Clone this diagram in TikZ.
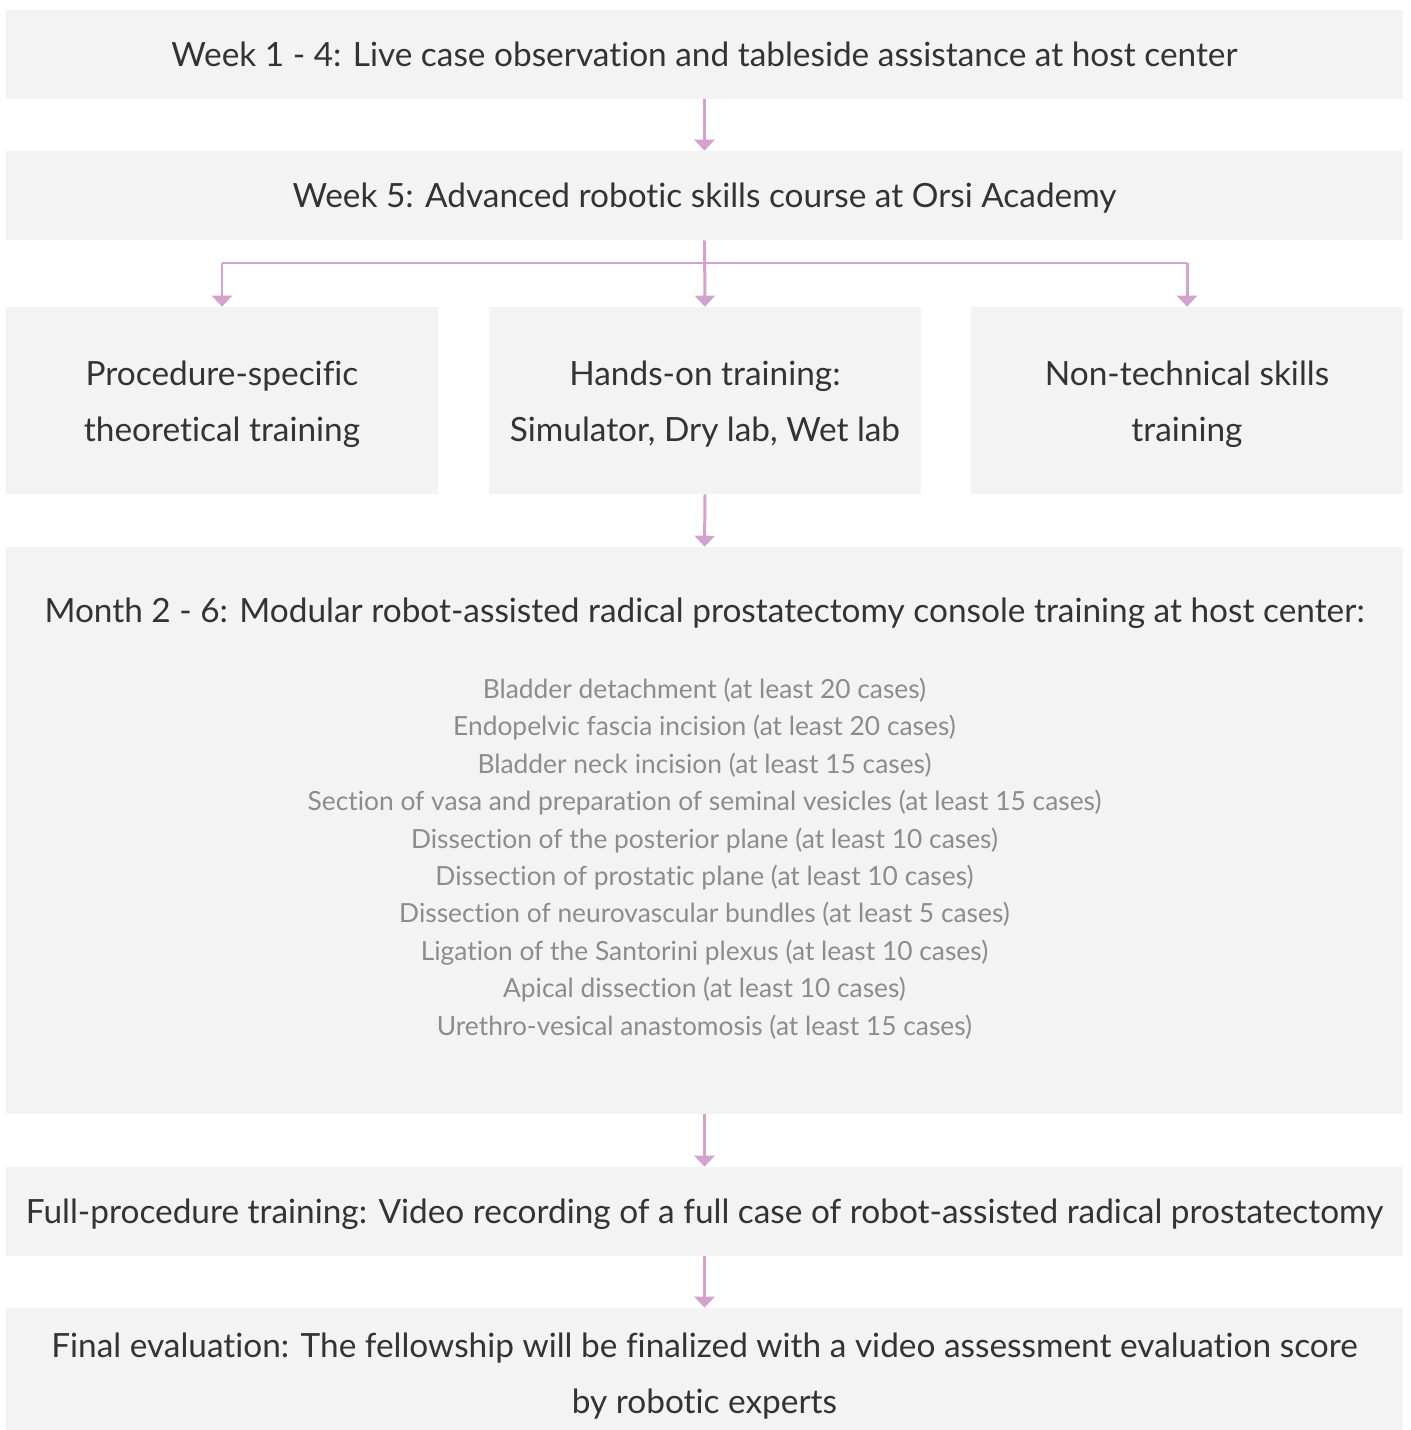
\documentclass[tikz,border=0pt]{standalone}
\usepackage{fontspec}
\setmainfont{Lato}[Ligatures=NoCommon]
\usepackage{tikz}
\usetikzlibrary{arrows.meta}

\definecolor{boxgray}{HTML}{F3F3F3}
\definecolor{arrowpink}{HTML}{D3A3CD}
\definecolor{textdark}{HTML}{333333}
\definecolor{textlight}{HTML}{8C8C8C}

% lower a line of text without changing its box
\newcommand{\lowline}[2]{\raisebox{-#1}[\height][\depth]{#2}}

\tikzset{
    stage/.style={fill=boxgray, text=textdark, inner sep=0pt, align=center,
        font=\fontsize{19}{31.9}\selectfont},
    widebox/.style={stage, minimum width=27.94cm, minimum height=1.78cm,
        text height=0.5cm, text depth=0.02cm},
    thirdbox/.style={stage, minimum width=8.64cm, minimum height=3.74cm},
    flow/.style={arrowpink, line width=1.7pt, -{Triangle[width=0.4cm,length=0.22cm]}},
}

\begin{document}
\begin{tikzpicture}[x=0.02cm,y=-0.02cm]
    \useasboundingbox (0,0) rectangle (1410,1430);
    \node[widebox] (weeks) at (704.5,54.5) {Week 1 - 4: Live case observation and tableside assistance at host center};
    \node[widebox] (course) at (704.5,195.5) {Week 5: Advanced robotic skills course at Orsi Academy};
    \node[thirdbox] (theory) at (222,400.5) {\lowline{0.08cm}{Procedure-specific}\\\lowline{0.08cm}{theoretical training}};
    \node[thirdbox] (hands) at (705,400.5) {\lowline{0.08cm}{Hands-on training:}\\\lowline{0.08cm}{Simulator, Dry lab, Wet lab}};
    \node[thirdbox] (nontech) at (1187,400.5) {\lowline{0.08cm}{Non-technical skills}\\\lowline{0.08cm}{training}};
    \node[stage, minimum width=27.94cm, minimum height=11.34cm] (month) at (704.5,830.5) {};
    \node[anchor=base, text=textdark, font=\fontsize{19}{31.9}\selectfont] (monthtitle) at (704.5,622) {Month 2 - 6: Modular robot-assisted radical prostatectomy console training at host center:};
    \node[text=textlight, align=center, font=\fontsize{15}{21.3}\selectfont] (modules) at (704.5,858.5) {Bladder detachment (at least 20 cases)\\
        Endopelvic fascia incision (at least 20 cases)\\
        Bladder neck incision (at least 15 cases)\\
        Section of vasa and preparation of seminal vesicles (at least 15 cases)\\
        Dissection of the posterior plane (at least 10 cases)\\
        Dissection of prostatic plane (at least 10 cases)\\
        Dissection of neurovascular bundles (at least 5 cases)\\
        Ligation of the Santorini plexus (at least 10 cases)\\
        Apical dissection (at least 10 cases)\\
        Urethro-vesical anastomosis (at least 15 cases)};
    \node[widebox] (full) at (704.5,1211.5) {Full-procedure training: Video recording of a full case of robot-assisted radical prostatectomy};
    \node[stage, minimum width=27.94cm, minimum height=2.44cm] (final) at (704.5,1369) {\lowline{0.14cm}{Final evaluation: The fellowship will be finalized with a video assessment evaluation score}\\\lowline{0.14cm}{by robotic experts}};

    \draw[flow] (weeks.south) -- (course.north);
    \coordinate (split) at (705,263);
    \draw[flow] (course.south) -- (hands.north);
    \draw[arrowpink, line width=1.7pt] (theory.north |- split) -- (nontech.north |- split);
    \draw[flow] (theory.north |- split) -- (theory.north);
    \draw[flow] (nontech.north |- split) -- (nontech.north);
    \draw[flow] (hands.south) -- (month.north);
    \draw[flow] (month.south) -- (full.north);
    \draw[flow] (full.south) -- (final.north);
\end{tikzpicture}
\end{document}
